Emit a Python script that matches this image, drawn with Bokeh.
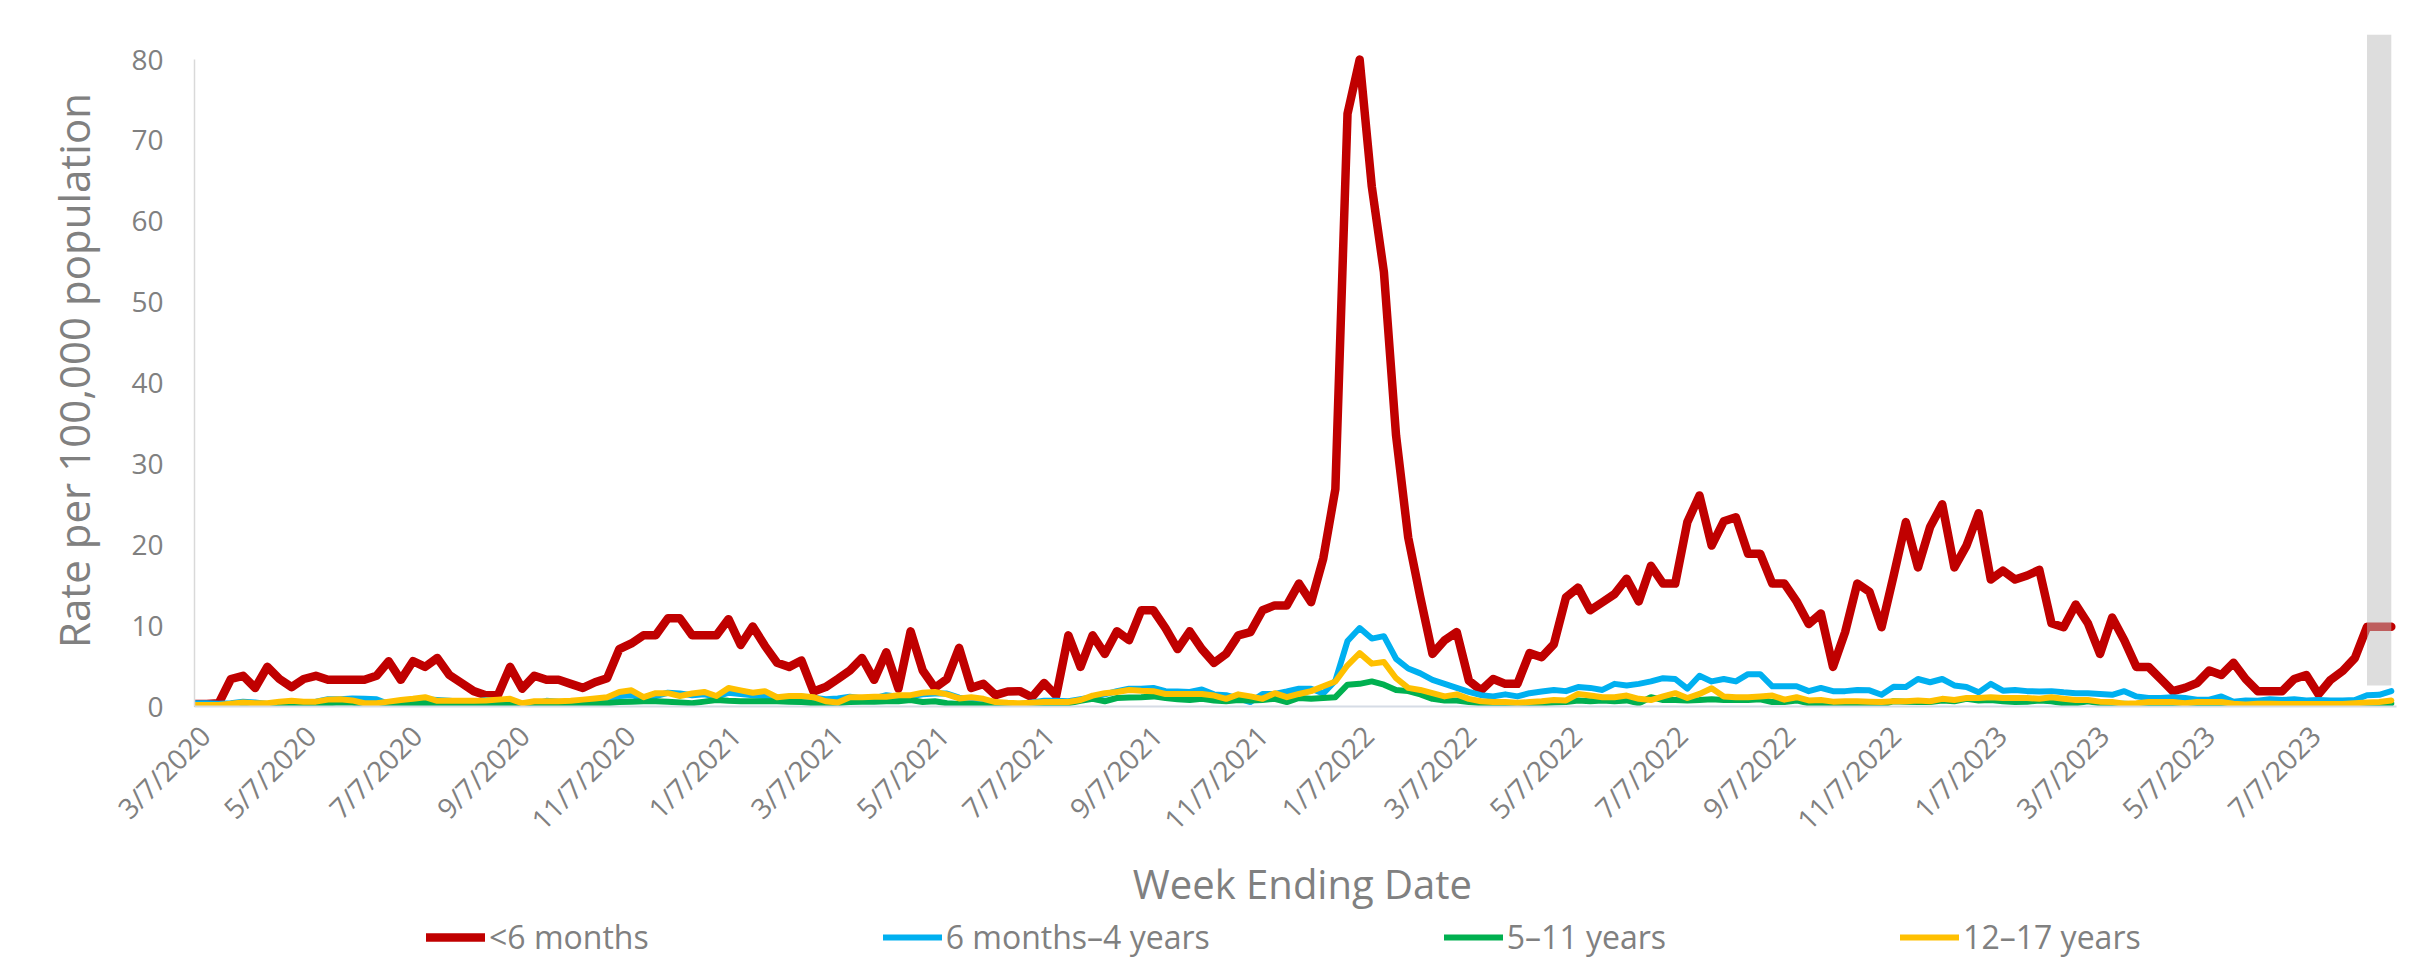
import math
import pandas as pd
from bokeh.plotting import figure
from bokeh.layouts import column
from bokeh.core.properties import value
from bokeh.models import Range1d, FixedTicker, Legend, LegendItem, ColumnDataSource
from bokeh.embed import file_html
from bokeh.resources import INLINE

# ---------------- data ----------------
start_date = "3/7/2020"
n_weeks = 182

tick_labels = ["3/7/2020", "5/7/2020", "7/7/2020", "9/7/2020", "11/7/2020",
               "1/7/2021", "3/7/2021", "5/7/2021", "7/7/2021", "9/7/2021", "11/7/2021",
               "1/7/2022", "3/7/2022", "5/7/2022", "7/7/2022", "9/7/2022", "11/7/2022",
               "1/7/2023", "3/7/2023", "5/7/2023", "7/7/2023"]

x_title = "Week Ending Date"
y_title = "Rate per 100,000 population"
series_names = ["<6 months", "6 months\u20134 years", "5\u201311 years", "12\u201317 years"]
series_colors = ["#C00000", "#00B0F0", "#00B050", "#FFC000"]

under_6_months = [
    0.3, 0.3, 0.4, 3.4, 3.8, 2.3, 4.9, 3.4, 2.4, 3.4,
    3.8, 3.3, 3.3, 3.3, 3.3, 3.8, 5.6, 3.3, 5.6, 4.9,
    6.0, 3.9, 2.9, 1.9, 1.4, 1.4, 4.9, 2.2, 3.8, 3.3,
    3.3, 2.8, 2.3, 3.0, 3.5, 7.1, 7.8, 8.8, 8.8, 10.9,
    10.9, 8.8, 8.8, 8.8, 10.8, 7.6, 9.9, 7.5, 5.4, 4.9,
    5.7, 1.85, 2.4, 3.4, 4.45, 6.0, 3.3, 6.7, 2.2, 9.3,
    4.45, 2.3, 3.4, 7.25, 2.3, 2.8, 1.4, 1.85, 1.9, 1.15,
    2.9, 1.35, 8.8, 4.9, 8.8, 6.5, 9.3, 8.2, 11.9, 11.9,
    9.7, 7.1, 9.3, 7.1, 5.4, 6.5, 8.8, 9.2, 11.9, 12.5,
    12.5, 15.2, 12.9, 18.3, 26.9, 73.3, 80.0, 64.3, 53.7, 33.5,
    20.9, 13.5, 6.5, 8.2, 9.2, 3.2, 2.0, 3.4, 2.8, 2.8,
    6.6, 6.1, 7.7, 13.5, 14.7, 11.9, 12.9, 13.9, 15.8, 13.0,
    17.4, 15.2, 15.2, 22.8, 26.1, 19.9, 22.9, 23.4, 18.9, 18.9,
    15.2, 15.2, 13.0, 10.2, 11.5, 4.9, 9.2, 15.2, 14.2, 9.8,
    16.2, 22.8, 17.2, 22.2, 25.0, 17.2, 19.9, 23.9, 15.7, 16.8,
    15.7, 16.2, 16.9, 10.3, 9.8, 12.6, 10.3, 6.5, 11.0, 8.2,
    4.9, 4.9, 3.4, 1.9, 2.3, 2.9, 4.45, 3.9, 5.4, 3.4,
    1.9, 1.9, 1.9, 3.4, 3.9, 1.5, 3.3, 4.4, 6.0, 9.85,
    9.85, 9.85,
]

months_6_to_4_years = [
    0.4, 0.4, 0.35, 0.4, 0.6, 0.5, 0.3, 0.4, 0.5, 0.4,
    0.6, 0.9, 0.9, 1.0, 0.95, 0.9, 0.3, 0.35, 0.5, 0.9,
    0.8, 0.7, 0.6, 0.6, 0.8, 0.7, 0.3, 0.1, 0.3, 0.7,
    0.6, 0.5, 0.4, 0.6, 0.8,
    1.3, 1.4, 1.0, 1.3, 1.7, 1.6, 1.4, 1.5, 1.2, 1.7,
    1.55, 1.4, 1.3, 1.0, 1.1, 1.2, 1.1, 0.9, 1.0, 1.2,
    1.0, 1.0, 1.4, 1.2, 1.25, 1.5, 1.6, 1.6, 1.1, 0.9,
    0.7, 0.5,
    0.1, 0.3, 0.5, 0.7, 0.7, 0.65, 0.9, 1.15, 1.5, 1.9,
    2.2, 2.2, 2.3, 1.9, 1.85, 1.8, 2.1, 1.5, 1.4, 1.0,
    0.55, 1.55, 1.55, 1.85, 2.2, 2.2, 1.6, 3.2, 8.1, 9.7,
    8.4, 8.7, 5.9, 4.7, 4.1,
    3.3, 2.8, 2.3, 1.8, 1.4, 1.25, 1.5, 1.25, 1.65, 1.85,
    2.05, 1.9, 2.4, 2.3, 2.05, 2.8, 2.6, 2.8, 3.1, 3.5,
    3.4, 2.2, 3.8, 3.1, 3.4, 3.1, 4.0, 4.0, 2.5, 2.5,
    2.5, 1.9, 2.3, 1.9,
    1.9, 2.05, 2.0, 1.45, 2.45, 2.4, 3.4, 3.0, 3.4, 2.6,
    2.4, 1.75, 2.8, 1.95, 2.05, 1.9, 1.85, 1.9, 1.75, 1.65,
    1.65, 1.55, 1.45, 1.9, 1.25, 1.05, 1.05, 1.15, 1.05, 0.85,
    0.85, 1.25, 0.6, 0.75,
    0.7, 0.9, 0.8, 0.9, 0.75, 0.8, 0.75, 0.75, 0.8, 1.4,
    1.45, 1.9,
]

years_5_to_11 = [
    0.1, 0.1, 0.1, 0.15, 0.25, 0.15, 0.15, 0.35, 0.4, 0.3,
    0.4, 0.4, 0.5, 0.45, 0.3, 0.3, 0.2, 0.3, 0.35, 0.45,
    0.3, 0.25, 0.3, 0.3, 0.3, 0.35, 0.45, 0.05, 0.3, 0.25,
    0.3, 0.3, 0.35, 0.4, 0.4,
    0.55, 0.6, 0.65, 0.65, 0.6, 0.5, 0.4, 0.6, 0.8, 0.7,
    0.65, 0.65, 0.65, 0.65, 0.6, 0.55, 0.4, 0.25, 0.4, 0.55,
    0.6, 0.6, 0.65, 0.65, 0.8, 0.55, 0.65, 0.4, 0.3, 0.3,
    0.2, 0.1,
    0.05, 0.05, 0.1, 0.1, 0.2, 0.4, 0.7, 0.95, 0.65, 1.05,
    1.1, 1.15, 1.25, 1.05, 0.9, 0.8, 0.95, 0.75, 0.65, 0.8,
    0.75, 0.8, 0.95, 0.55, 1.05, 0.95, 1.05, 1.15, 2.7, 2.8,
    3.1, 2.7, 2.05, 1.9, 1.5,
    0.95, 0.75, 0.75, 0.55, 0.4, 0.25, 0.35, 0.25, 0.35, 0.4,
    0.5, 0.55, 0.75, 0.65, 0.75, 0.65, 0.75, 0.4, 1.15, 0.8,
    0.8, 0.75, 0.8, 0.9, 0.8, 0.8, 0.8, 0.9, 0.55, 0.55,
    0.75, 0.4, 0.4, 0.3,
    0.35, 0.25, 0.25, 0.2, 0.65, 0.6, 0.55, 0.55, 0.75, 0.65,
    0.95, 0.75, 0.8, 0.65, 0.55, 0.6, 0.75, 0.65, 0.4, 0.4,
    0.65, 0.4, 0.35, 0.35, 0.25, 0.1, 0.25, 0.2, 0.1, 0.1,
    0.05, 0.2, 0.1, 0.1,
    0.15, 0.15, 0.15, 0.15, 0.15, 0.15, 0.15, 0.15, 0.2, 0.25,
    0.3, 0.4,
]

years_12_to_17 = [
    0.2, 0.2, 0.2, 0.35, 0.5, 0.4, 0.4, 0.6, 0.7, 0.6,
    0.6, 0.85, 0.9, 0.75, 0.4, 0.4, 0.6, 0.8, 0.95, 1.15,
    0.7, 0.7, 0.7, 0.7, 0.75, 0.85, 0.95, 0.4, 0.65, 0.65,
    0.65, 0.7, 0.85, 1.0, 1.15,
    1.8, 2.0, 1.15, 1.65, 1.65, 1.3, 1.6, 1.8, 1.3, 2.3,
    2.0, 1.7, 1.9, 1.15, 1.3, 1.3, 1.15, 0.65, 0.5, 1.15,
    1.15, 1.2, 1.2, 1.4, 1.4, 1.7, 1.8, 1.5, 1.0, 1.15,
    0.95, 0.55,
    0.45, 0.4, 0.45, 0.55, 0.55, 0.55, 0.8, 1.35, 1.65, 1.8,
    2.05, 1.95, 1.9, 1.55, 1.55, 1.55, 1.55, 1.35, 0.95, 1.5,
    1.25, 0.95, 1.65, 1.15, 1.55, 1.9, 2.5, 3.1, 5.1, 6.6,
    5.3, 5.5, 3.5, 2.3, 2.05,
    1.65, 1.25, 1.5, 0.95, 0.65, 0.55, 0.55, 0.45, 0.55, 0.65,
    0.8, 0.75, 1.55, 1.35, 1.15, 1.15, 1.35, 0.95, 0.8, 1.25,
    1.65, 1.05, 1.55, 2.25, 1.25, 1.15, 1.15, 1.25, 1.35, 0.85,
    1.15, 0.75, 0.8, 0.6,
    0.65, 0.65, 0.6, 0.55, 0.65, 0.65, 0.75, 0.65, 0.95, 0.8,
    1.05, 1.05, 1.15, 1.05, 1.05, 1.05, 0.95, 1.15, 0.95, 0.8,
    0.8, 0.6, 0.55, 0.35, 0.4, 0.55, 0.55, 0.55, 0.4, 0.55,
    0.55, 0.55, 0.35, 0.25,
    0.35, 0.35, 0.3, 0.3, 0.3, 0.3, 0.3, 0.3, 0.4, 0.5,
    0.55, 0.75,
]

# shaded (incomplete) weeks: from week-ending 8/12/2023 to 8/26/2023
shade_start = "8/12/2023"
shade_end = "8/26/2023"
shade_bottom = 2.6
shade_top = 83.1

# ---------------- derived ----------------
start = pd.to_datetime(start_date, format="%m/%d/%Y")
week_ending = pd.date_range(start, periods=n_weeks, freq="7D")
days = [(d - start).days for d in week_ending]
label_shift_days = 6  # rotated labels sit slightly right of their date, as in the original
tick_days = [(pd.to_datetime(t, format="%m/%d/%Y") - start).days + label_shift_days for t in tick_labels]
s0 = (pd.to_datetime(shade_start, format="%m/%d/%Y") - start).days
s1 = (pd.to_datetime(shade_end, format="%m/%d/%Y") - start).days

GRAY = "#808080"
FONT = "Open Sans"
W = 2417
H_MAIN = 855
H_STRIP = 103

p = figure(width=W, height=H_MAIN, output_backend="svg", toolbar_location=None,
           x_range=Range1d(0, 1270), y_range=Range1d(0, 83.1),
           min_border_left=194, min_border_right=21, min_border_top=34,
           min_border_bottom=H_MAIN - 706)
p.outline_line_color = None
p.xgrid.visible = False
p.ygrid.visible = False
p.background_fill_color = "white"
p.border_fill_color = "white"

values = [under_6_months, months_6_to_4_years, years_5_to_11, years_12_to_17]
widths = [8.5, 6, 6, 6]
for name, vals, col, w in zip(series_names, values, series_colors, widths):
    src = ColumnDataSource(dict(x=days, y=vals))
    p.line("x", "y", source=src, line_color=col, line_width=w,
           line_join="round", line_cap="round")

p.quad(left=[s0], right=[s1], bottom=[shade_bottom], top=[shade_top],
       fill_color="#BCBCBC", fill_alpha=0.5, line_color=None)

# x axis (title is drawn in the strip below)
xa = p.xaxis[0]
xa.ticker = FixedTicker(ticks=tick_days)
xa.major_label_overrides = {d: t for d, t in zip(tick_days, tick_labels)}
xa.major_label_orientation = math.pi / 4
xa.major_label_text_font = FONT
xa.major_label_text_font_size = "28px"
xa.major_label_text_color = GRAY
xa.major_label_standoff = 18
xa.major_tick_line_color = None
xa.minor_tick_line_color = None
xa.axis_line_color = "#D6DCE5"
xa.axis_line_width = 2

# y axis
ya = p.yaxis[0]
ya.ticker = FixedTicker(ticks=list(range(0, 81, 10)))
ya.bounds = (0, 80)
ya.major_label_text_font = FONT
ya.major_label_text_font_size = "28px"
ya.major_label_text_color = GRAY
ya.major_label_standoff = 25
ya.major_tick_line_color = None
ya.minor_tick_line_color = None
ya.axis_line_color = "#D9D9D9"
ya.axis_line_width = 1.5
ya.axis_label = y_title
ya.axis_label_text_font = FONT
ya.axis_label_text_font_size = "42px"
ya.axis_label_text_font_style = "normal"
ya.axis_label_text_color = GRAY
ya.axis_label_standoff = 26

# strip below the chart: x-axis title and legend (pixel coordinates)
lf = figure(width=W, height=H_STRIP, output_backend="svg", toolbar_location=None,
            x_range=Range1d(180, 2396), y_range=Range1d(0, H_STRIP),
            x_axis_location=None, y_axis_location=None,
            min_border_left=180, min_border_right=21, min_border_top=0, min_border_bottom=0)
lf.outline_line_color = None
lf.xgrid.visible = False
lf.ygrid.visible = False
lf.border_fill_color = "white"
lf.background_fill_color = "white"
lf.text(x=[1295], y=[H_STRIP - 28], text=[x_title], text_font=value(FONT),
        text_font_size="40px", text_color=GRAY, text_align="center",
        text_baseline="middle")
items = []
for name, col, w in zip(series_names, series_colors, widths):
    r = lf.line(x=[-2, -1], y=[-2, -2], line_color=col, line_width=w, line_cap="round")
    items.append(LegendItem(label=name, renderers=[r]))
legend = Legend(items=items, orientation="horizontal", location=(232, 0), spacing=234,
                glyph_width=59, glyph_height=36, label_height=36, label_standoff=4,
                padding=0, margin=0, border_line_color=None, background_fill_alpha=0,
                label_text_font=FONT, label_text_font_size="32px", label_text_color=GRAY)
lf.add_layout(legend)

layout = column(p, lf, spacing=0)
open("out.html", "w").write(file_html(layout, INLINE))
